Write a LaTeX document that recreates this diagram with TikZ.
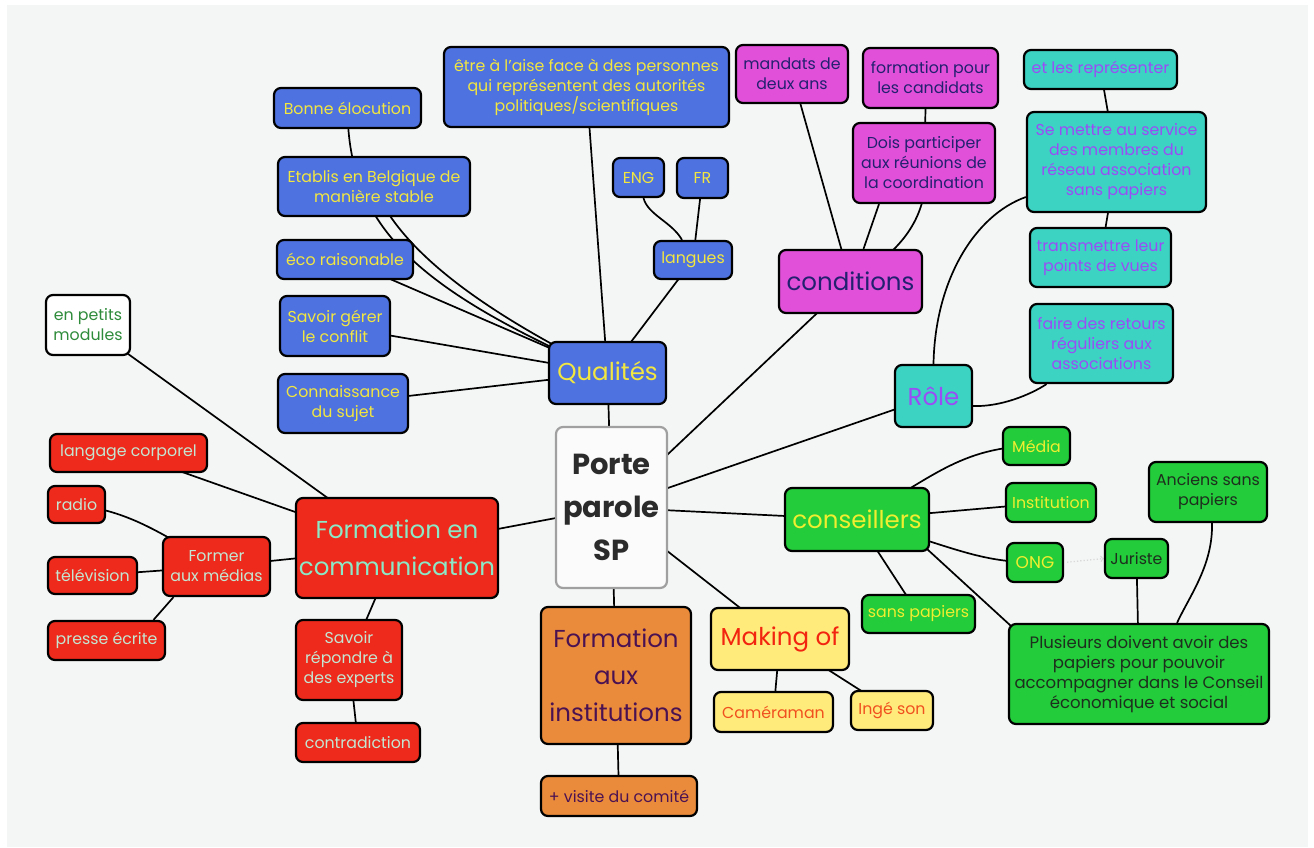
\documentclass[tikz,border=0pt]{standalone}
\usepackage{fontspec}
\setmainfont{Poppins}
\usetikzlibrary{calc}
\definecolor{bgc}{HTML}{F4F5F5}
\definecolor{qblue}{HTML}{4E72DF}
\definecolor{qyel}{HTML}{F2E640}
\definecolor{mag}{HTML}{E050D8}
\definecolor{navy}{HTML}{232070}
\definecolor{teal}{HTML}{3DD3C3}
\definecolor{viol}{HTML}{9A4CF5}
\definecolor{grn}{HTML}{22CC3A}
\definecolor{gyel}{HTML}{F0EE30}
\definecolor{gdark}{HTML}{1E2E1E}
\definecolor{rred}{HTML}{EE2A1C}
\definecolor{mintb}{HTML}{8CE9C8}
\definecolor{mints}{HTML}{C4E6D2}
\definecolor{orng}{HTML}{EA8B3C}
\definecolor{purp}{HTML}{4B1252}
\definecolor{yel}{HTML}{FFEA7C}
\definecolor{mred}{HTML}{F2230F}
\definecolor{mred2}{HTML}{F0501E}
\definecolor{ptext}{HTML}{2B2B2B}
\definecolor{pbord}{HTML}{A0A0A0}
\definecolor{modg}{HTML}{2E8B3A}
\pgfdeclarelayer{background}
\pgfsetlayers{background,main}
\tikzset{
  box/.style={draw=black, line width=2.2pt, rounded corners=7pt, inner sep=1pt, align=center},
  sm/.style={font=\fontsize{15.8}{20}\selectfont},
  big/.style={font=\fontsize{24.5}{37}\selectfont},
  bl/.style={box, fill=qblue, text=qyel},
  mg/.style={box, fill=mag, text=navy},
  tl/.style={box, fill=teal, text=viol},
  gr/.style={box, fill=grn, text=gyel},
  gd/.style={box, fill=grn, text=gdark},
  rd/.style={box, fill=rred, text=mints},
  og/.style={box, fill=orng, text=purp},
  yl/.style={box, fill=yel, text=mred2},
  edge/.style={draw=black, line width=1.7pt},
}
\begin{document}
\begin{tikzpicture}[x=1pt,y=-1pt]
\useasboundingbox (0,0) rectangle (1314,847);
% blue
\node[bl,sm,minimum width=147pt,minimum height=40pt] (bon) at (347.5,108) {Bonne élocution};
\node[bl,sm,minimum width=192pt,minimum height=59pt] (etab) at (374,186.5) {Etablis en Belgique de\\manière stable};
\node[bl,sm,minimum width=136pt,minimum height=39pt] (eco) at (345,259.5) {éco raisonable};
\node[bl,sm,minimum width=110pt,minimum height=60pt] (sav) at (335,326) {Savoir gérer\\le conflit};
\node[bl,sm,minimum width=130pt,minimum height=59pt] (con) at (343,403.5) {Connaissance\\du sujet};
\node[bl,sm,minimum width=285pt,minimum height=80pt] (etre) at (586.5,87) {être à l'aise face à des personnes\\qui représentent des autorités\\politiques/scientifiques};
\node[bl,sm,minimum width=51pt,minimum height=39pt] (eng) at (638.5,177.5) {ENG};
\node[bl,sm,minimum width=51pt,minimum height=40pt] (fr) at (702.5,178) {FR};
\node[bl,sm,minimum width=78pt,minimum height=38pt] (lang) at (693,260) {langues};
\node[bl,big,minimum width=117pt,minimum height=62pt] (qual) at (607.5,373) {Qualités};
% magenta
\node[mg,sm,minimum width=112pt,minimum height=58pt] (mand) at (792,74) {mandats de\\deux ans};
\node[mg,sm,minimum width=135pt,minimum height=60pt] (form) at (930.5,78) {formation pour\\les candidats};
\node[mg,sm,minimum width=142pt,minimum height=80pt] (dois) at (924,163) {Dois participer\\aux réunions de\\la coordination};
\node[mg,big,minimum width=143pt,minimum height=63pt] (cond) at (850.5,281.5) {conditions};
% teal
\node[tl,sm,minimum width=153pt,minimum height=39pt] (etles) at (1100.5,69.5) {et les représenter};
\node[tl,sm,minimum width=179pt,minimum height=100pt] (serv) at (1116.5,162) {Se mettre au service\\des membres du\\réseau association\\sans papiers};
\node[tl,sm,minimum width=141pt,minimum height=59pt] (trans) at (1100.5,257.5) {transmettre leur\\points de vues};
\node[tl,sm,minimum width=143pt,minimum height=79pt] (faire) at (1101.5,343.5) {faire des retours\\réguliers aux\\associations};
\node[tl,big,minimum width=77pt,minimum height=62pt] (role) at (933.5,396) {Rôle};
% green
\node[gr,big,minimum width=144pt,minimum height=63pt] (cons) at (857,519.5) {conseillers};
\node[gr,sm,minimum width=67pt,minimum height=38pt] (media) at (1036.5,446) {Média};
\node[gr,sm,minimum width=90pt,minimum height=39pt] (inst) at (1051,502.5) {Institution};
\node[gr,sm,minimum width=56pt,minimum height=39pt,font=\fontsize{17}{20}\selectfont] (ong) at (1035,562.5) {ONG};
\node[gr,sm,minimum width=113pt,minimum height=38pt] (sansp) at (918.5,614) {sans papiers};
\node[gd,sm,minimum width=63pt,minimum height=39pt] (jur) at (1136.5,558.5) {Juriste};
\node[gd,sm,minimum width=118pt,minimum height=60pt] (anc) at (1208,492) {Anciens sans\\papiers};
\node[gd,minimum width=260pt,minimum height=100pt,font=\fontsize{16.5}{20}\selectfont] (plus) at (1139,674) {Plusieurs doivent avoir des\\papiers pour pouvoir\\accompagner dans le Conseil\\économique et social};
% red
\node[rd,sm,minimum width=157pt,minimum height=38pt] (lc) at (128.5,453) {langage corporel};
\node[rd,sm,minimum width=57pt,minimum height=37pt] (radio) at (76.5,504.5) {radio};
\node[rd,sm,minimum width=89pt,minimum height=37pt] (tele) at (92.5,575.5) {télévision};
\node[rd,sm,minimum width=117pt,minimum height=39pt] (presse) at (106.5,640.5) {presse écrite};
\node[rd,sm,minimum width=107pt,minimum height=59pt] (fam) at (216.5,566.5) {Former\\aux médias};
\node[rd,big,text=mintb,minimum width=202pt,minimum height=100pt] (fec) at (397,548) {Formation en\\communication};
\node[rd,sm,minimum width=106pt,minimum height=80pt] (srep) at (349,660) {Savoir\\répondre à\\des experts};
\node[rd,sm,minimum width=124pt,minimum height=39pt] (contra) at (358,742.5) {contradiction};
% white
\node[box,fill=white,text=modg,sm,minimum width=84pt,minimum height=60pt] (mod) at (88,325) {en petits\\modules};
\node[box,draw=pbord,fill=white!60!bgc,text=ptext,minimum width=111pt,minimum height=161pt,font=\fontsize{29}{43}\selectfont\bfseries] (porte) at (611.5,507.5) {Porte\\parole\\SP};
% orange
\node[og,big,minimum width=150pt,minimum height=137pt] (fai) at (616,675.5) {Formation\\aux\\institutions};
\node[og,sm,minimum width=156pt,minimum height=40pt] (vis) at (619,796) {+ visite du comité};
% yellow
\node[yl,big,text=mred,minimum width=138pt,minimum height=62pt] (mak) at (780,639) {Making of};
\node[yl,sm,minimum width=119pt,minimum height=40pt] (cam) at (773.5,712) {Caméraman};
\node[yl,sm,minimum width=82pt,minimum height=39pt] (inge) at (892,710.5) {Ingé son};

\begin{pgfonlayer}{background}
\fill[bgc] (7,5) rectangle (1308,847);
% Qualites
\draw[edge] (bon.center) .. controls (348,230) and (420,290) .. (qual.center);
\draw[edge] (etab.center) .. controls (400,250) and (480,310) .. (qual.center);
\draw[edge] (eco.center) -- (qual.center);
\draw[edge] (sav.center) -- (qual.center);
\draw[edge] (con.center) -- (qual.center);
\draw[edge] (etre.center) -- (qual.center);
\draw[edge] (lang.center) -- (qual.center);
\draw[edge] ([xshift=5pt]eng.south) .. controls (648,215) and (672,222) .. ([xshift=-11pt]lang.north);
\draw[edge] (fr.center) -- (lang.center);
\draw[edge] (qual.center) -- (porte.center);
% conditions
\draw[edge] (mand.center) -- (cond.center);
\draw[edge] (form.center) .. controls (910,150) and (965,215) .. (cond.center);
\draw[edge] ([xshift=-45pt]dois.south) -- ([xshift=13pt]cond.north);
\draw[edge] (cond.center) -- (porte.center);
% role
\draw[edge] (role.center) -- (porte.center);
\draw[edge] (role.north) .. controls (935,280) and (975,215) .. ([yshift=-35pt]serv.west);
\draw[edge] (etles.center) -- (serv.center);
\draw[edge] (serv.center) -- (trans.center);
\draw[edge] ([yshift=-10pt]role.east) .. controls (1000,407) and (1030,395) .. ([xshift=-55pt]faire.south);
% conseillers
\draw[edge] (cons.center) -- (porte.center);
\draw[edge] (cons.center) .. controls (930,480) and (960,446) .. (media.center);
\draw[edge] (cons.center) -- (inst.center);
\draw[edge] (cons.center) .. controls (950,545) and (975,562) .. (ong.center);
\draw[edge] (cons.center) -- (sansp.center);
\draw[edge] ($(cons.south east)+(-3,-3)$) -- ($(plus.north west)+(3,3)$);
\draw[edge] (jur.center) -- (plus.center);
\draw[edge] ([xshift=4pt]anc.south) .. controls (1213,565) and (1190,595) .. ([xshift=38pt]plus.north);
\draw[draw=black!15, dotted, line width=1.3pt, ->, shorten <=3pt] (ong.east) -- (jur.west);
% making of
\draw[edge] (mak.center) -- (porte.center);
\draw[edge] (mak.center) -- (cam.center);
\draw[edge] (mak.center) -- (inge.center);
% institutions
\draw[edge] (fai.center) -- (porte.center);
\draw[edge] (fai.center) -- (vis.center);
% communication
\draw[edge] (fec.center) -- (porte.center);
\draw[edge] (fec.center) -- (mod.center);
\draw[edge] (fec.center) -- (lc.center);
\draw[edge] (fec.center) -- (fam.center);
\draw[edge] (fec.center) -- (srep.center);
\draw[edge] (srep.center) -- (contra.center);
\draw[edge] (radio.center) .. controls (125,512) and (150,525) .. (fam.center);
\draw[edge] (tele.center) -- (fam.center);
\draw[edge] ([xshift=47pt]presse.north) -- ([xshift=-43pt]fam.south);
\end{pgfonlayer}
\end{tikzpicture}
\end{document}
